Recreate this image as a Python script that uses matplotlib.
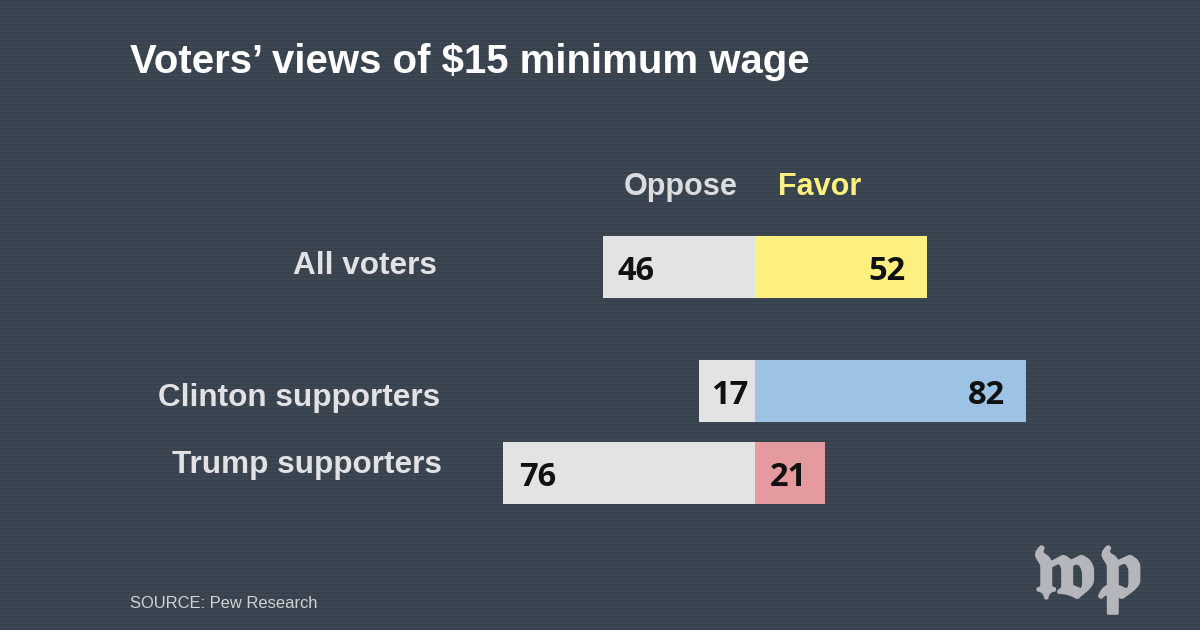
import matplotlib
matplotlib.use('Agg')
import matplotlib.pyplot as plt
import matplotlib.patheffects as pe
import numpy as np

# Data
groups = ['All voters', 'Clinton supporters', 'Trump supporters']
oppose = [46, 17, 76]
favor = [52, 82, 21]
favor_colors = ['#fdf07e', '#9dc3e4', '#e59aa0']

bg = '#3d4753'
plt.rcParams['font.family'] = ['Liberation Sans', 'DejaVu Sans']
plt.rcParams['mathtext.fontset'] = 'stix'

fig = plt.figure(figsize=(12, 6.3), dpi=100, facecolor=bg)
ax = fig.add_axes([0, 0, 1, 1])
ax.set_facecolor(bg)

# x is in percent points, zero line sits at pixel 755, y is in pixels from the top
scale = 3.31
ax.set_xlim(-755 / scale, 445 / scale)
ax.set_ylim(630, 0)
ax.axis('off')

# scan lines of the video frame
for yy in np.arange(0, 630, 4):
    ax.axhline(yy + 0.5, color='#37414c', lw=1.2, zorder=0)

# bars
bar_y = [267, 391, 473]
label_y = [266, 398, 465]
label_x = [-96, -95, -94.5]
oppose_pad = [4.6, 3.7, 4.8]
favor_pad = [6.5, 6.6, 5.3]
for i in range(3):
    ax.barh(bar_y[i], -oppose[i], height=62, color='#e4e3e4', zorder=2)
    ax.barh(bar_y[i], favor[i], height=62, color=favor_colors[i], zorder=2)
    ax.text(-oppose[i] + oppose_pad[i], bar_y[i] + 4, str(oppose[i]), family='Open Sans',
            ha='left', va='center', fontsize=23.5, fontweight='bold', color='#111111', zorder=3)
    ax.text(favor[i] - favor_pad[i], bar_y[i] + 4, str(favor[i]), family='Open Sans',
            ha='right', va='center', fontsize=23.5, fontweight='bold', color='#111111', zorder=3)
    ax.text(label_x[i], label_y[i], groups[i], ha='right', va='center', fontsize=22.7,
            fontweight='bold', color='#e2e2e4', zorder=3)

# headers
ax.text(-5.4, 187, 'Oppose', ha='right', va='center', fontsize=22.1, fontweight='bold', color='#dcdcde')
ax.text(7, 187, 'Favor', ha='left', va='center', fontsize=22, fontweight='bold', color='#fdf07e')

# title and source
fig.text(130 / 1200, 1 - 62 / 630, 'Voters\u2019 views of \\$15 minimum wage', ha='left', va='center',
         fontsize=28.9, fontweight='bold', color='white')
fig.text(130 / 1200, 1 - 603 / 630, 'SOURCE: Pew Research', ha='left', va='center',
         fontsize=11.9, color='#d0d2d6')

# logo
fig.text(1087 / 1200, 1 - 576 / 630, r'$\mathfrak{wp}$', ha='center', va='center', fontsize=60,
         color='#b4b6bb', path_effects=[pe.withStroke(linewidth=2.5, foreground='#b4b6bb')])

fig.savefig('out.png', dpi=100, facecolor=bg)
